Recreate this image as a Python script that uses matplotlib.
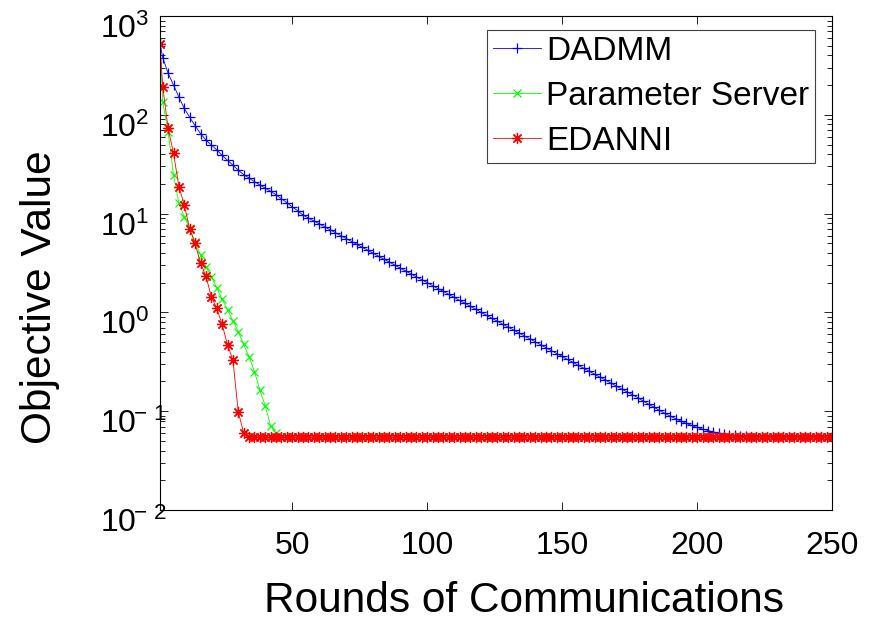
import matplotlib
matplotlib.use("Agg")
import matplotlib.pyplot as plt
import matplotlib.transforms as mtransforms
from matplotlib.ticker import LogLocator, NullFormatter, NullLocator

plt.rcParams['font.family'] = ['Liberation Sans', 'DejaVu Sans']
plt.rcParams['mathtext.fontset'] = 'custom'
plt.rcParams['mathtext.rm'] = 'Liberation Sans'
plt.rcParams['mathtext.it'] = 'Liberation Sans:italic'
plt.rcParams['mathtext.bf'] = 'Liberation Sans:bold'

# communication rounds (first point, then every 2 rounds)
rounds = [1] + list(range(2, 251, 2))

# objective values
dadmm = ([515,
          380, 263, 200, 151, 116, 94.4, 77.6, 64.6, 55.6, 49.5, 44.2, 38.9, 34.7,
          30.9, 27.5, 24.8, 22.9, 21.1, 19.5, 18.1, 16.8, 15.5, 14.1, 12.9, 11.7, 10.7,
          9.66, 9.02, 8.43, 7.87, 7.35, 6.86, 6.41, 5.98, 5.59, 5.22, 4.87, 4.55, 4.25,
          3.97, 3.70, 3.45, 3.23, 3.01, 2.81, 2.63, 2.45, 2.29, 2.14, 2.00, 1.86, 1.74,
          1.63, 1.52, 1.42, 1.32, 1.24, 1.15, 1.08,
          1.00, 0.934, 0.872, 0.814, 0.760, 0.710, 0.663, 0.619, 0.578, 0.540, 0.504,
          0.471, 0.439, 0.410, 0.383, 0.358, 0.334, 0.312, 0.291, 0.272, 0.254, 0.237,
          0.221, 0.207, 0.193, 0.180, 0.168, 0.157,
          0.147, 0.137, 0.127, 0.118, 0.110, 0.102, 0.0953, 0.0893, 0.0840, 0.0793,
          0.0752, 0.0717, 0.0686, 0.0660, 0.0637, 0.0618, 0.0601, 0.0588, 0.0577,
          0.0568, 0.0561, 0.0556, 0.0552, 0.0550]
         + [0.0548] * 14)

param_server = ([515, 136, 67, 24.5, 12.8, 9.25, 7.09, 5.16, 3.81, 2.90, 2.30, 1.78,
                 1.36, 1.06, 0.824, 0.638, 0.475, 0.356, 0.251, 0.164, 0.113, 0.0708,
                 0.0597]
                + [0.0548] * 103)

edanni = ([515, 192, 72.9, 40.7, 18.7, 12.2, 6.93, 5.00, 3.14, 2.33, 1.44, 1.10,
           0.76, 0.47, 0.33, 0.098, 0.060]
          + [0.0548] * 109)

yticks = [1e-2, 1e-1, 1e0, 1e1, 1e2, 1e3]
ytick_labels = [r'$10^{\!\!-\,2}$', r'$10^{\!\!-\,1}$', r'$10^{0}$',
                r'$10^{1}$', r'$10^{2}$', r'$10^{3}$']
xticks = [50, 100, 150, 200, 250]

fig = plt.figure(figsize=(8.74, 6.26), dpi=100)
ax = fig.add_axes([0.1831, 0.1853, 0.7689, 0.7891])

ax.semilogy(rounds, dadmm, color='b', marker='+', ms=7.5, mew=0.9, lw=0.6,
            label='DADMM')
ax.semilogy(rounds, param_server, color=(0, 1, 0), marker='x', ms=5.5, mew=0.9,
            lw=0.6, label='Parameter Server')
ax.semilogy(rounds, edanni, color='r', marker=(8, 2, 0), ms=8, mew=0.9, lw=0.6,
            label='EDANNI')

ax.set_xlim(1, 250)
ax.set_ylim(1e-2, 1e3)
ax.set_xticks(xticks)
ax.set_xticklabels([str(t) for t in xticks])
ax.xaxis.set_minor_locator(NullLocator())
ax.set_yticks(yticks)
ax.yaxis.set_minor_locator(LogLocator(base=10, subs=range(2, 10), numticks=50))
ax.yaxis.set_minor_formatter(NullFormatter())

ax.tick_params(which='both', direction='in', top=True, right=True, width=0.6,
               colors='black')
ax.tick_params(which='major', length=6)
ax.tick_params(which='minor', length=3.5)
ax.tick_params(axis='x', labelsize=23, pad=15)
ax.tick_params(axis='y', labelsize=23, pad=0)
ax.set_yticklabels(ytick_labels)

# MATLAB style labels: the "10" lines up, shifted a bit below the tick
shift = mtransforms.ScaledTranslation(-0.60, -0.22, fig.dpi_scale_trans)
for lab in ax.get_yticklabels():
    lab.set_ha('left')
    lab.set_va('baseline')
    lab.set_transform(lab.get_transform() + shift)

for sp in ax.spines.values():
    sp.set_linewidth(0.8)
    sp.set_color('black')

ax.set_xlabel('Rounds of Communications', fontsize=30.5, va='center')
ax.xaxis.set_label_coords(0.5417, -0.184)
ax.set_ylabel('Objective Value', fontsize=30.5, va='center')
ax.yaxis.set_label_coords(-0.1786, 0.431)

leg = ax.legend(loc='upper right', bbox_to_anchor=(0.975, 0.972),
                borderaxespad=0, fontsize=24, handlelength=1.42,
                handletextpad=0.16, labelspacing=0.42, borderpad=0.18,
                fancybox=False, framealpha=1, edgecolor='0.25')
leg.get_frame().set_linewidth(0.8)

fig.savefig('out.png', dpi=100)
